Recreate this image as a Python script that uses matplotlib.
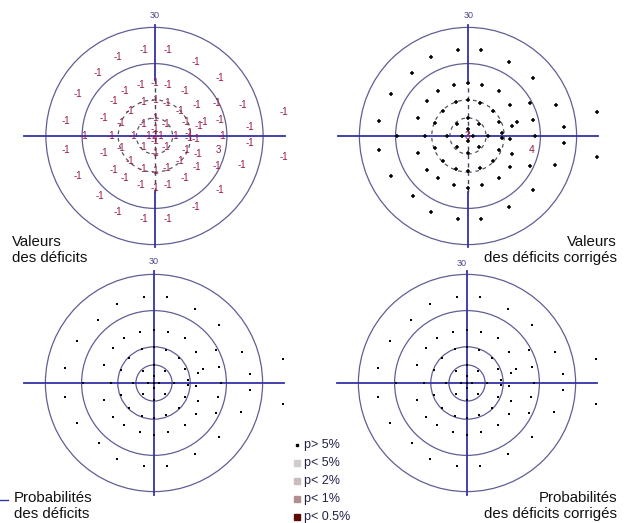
import matplotlib
matplotlib.use("Agg")
import matplotlib.pyplot as plt
from matplotlib.patches import Circle
from matplotlib.lines import Line2D

plt.rcParams["font.family"] = ["Liberation Sans", "DejaVu Sans"]

# positions des points testés (degrés)
pt_x = [-2.8, 3.7, -10.2, 11.4, -15.6, 18.0, -21.2, 24.4, 35.7, -24.6, 26.4,
        26.4, 35.7, -24.6, -21.2, 24.1, 18.0, -15.2, 11.4, -10.2, -2.8, 3.7,
        0.0, -3.9, 3.8, -8.3, 8.5, -11.2, 11.7, 17.2, -13.9, 13.6, 18.0,
        -19.5, -12.0, 18.5, -13.9, 17.6, 12.1, -11.2, 11.7, 17.2, -8.3, 8.5,
        -3.9, 3.8, 0.0,
        0.0, -3.2, 3.3, -6.9, 6.9, -9.2, 8.7, 12.2, 0.0, -3.1, 3.1, 0.0,
        -5.9, -1.7, 0.0, 1.5, 5.5, 9.5, 9.5, 11.5, 0.0, -9.2, -3.1, 3.1,
        8.7, 0.0, -6.9, 6.9, -3.2, 3.3, 0.0]
pt_y = [23.7, 23.7, 21.8, 20.4, 17.3, 16.0, 11.6, 8.6, 6.6, 4.2, 2.6,
        -1.9, -5.9, -3.8, -11.0, -8.0, -15.0, -16.7, -19.7, -20.9, -22.8, -22.8,
        14.6, 14.2, 14.2, 12.4, 12.4, 9.7, 8.6, 9.0, 5.0, 4.0, 4.3,
        0.0, 0.0, 0.0, -4.6, -3.9, -5.0, -9.3, -8.6, -8.3, -11.7, -11.6,
        -13.6, -13.6, -14.4,
        10.0, 9.4, 9.1, 7.0, 7.0, 3.5, 3.9, 2.8, 5.1, 3.4, 3.4, 2.0,
        0.0, 0.0, 0.0, 0.0, 0.0, 0.9, -0.6, -0.9, -1.3, -3.2, -3.1, -3.1,
        -3.9, -4.7, -6.8, -6.8, -9.1, -8.9, -9.6]

# valeurs des déficits (dB) et déficits corrigés
deficits = [-1] * 22 + [-1] * 15 + [3] + [-1] * 9 + [-1] * 14 + [2] + [-1] * 16
corriges = [0] * 22 + [0] * 15 + [4] + [0] * 9 + [0] * 14 + [3] + [0] * 16

# légende des probabilités
leg_labels = ["p> 5%", "p< 5%", "p< 2%", "p< 1%", "p< 0.5%"]
leg_colors = ["#000000", "#d3cccc", "#c9bcbc", "#b08f8f", "#5c0a0a"]

W, H = 628, 523
S = 3.62  # pixels par degré
BLUE = "#3333a6"
RING = "#5f5f94"
RED = "#96154a"

fig = plt.figure(figsize=(W / 100, H / 100), dpi=100)


def panel(cx, cy, dashed):
    hw, hh = 40, 36
    ax = fig.add_axes([(cx - hw * S) / W, (H - cy - hh * S) / H,
                       2 * hw * S / W, 2 * hh * S / H])
    ax.set_xlim(-hw, hw)
    ax.set_ylim(-hh, hh)
    ax.axis("off")
    for r in (30, 20, 10, 5):
        ls = (0, (3, 3)) if (dashed and r < 20) else "-"
        col = "#555566" if (dashed and r < 20) else RING
        ax.add_patch(Circle((0, 0), r, fill=False, ec=col, lw=0.9, ls=ls))
    ax.plot([-36, 36], [0, 0], color=BLUE, lw=1.3, zorder=2)
    if dashed:
        ax.plot([0, 0], [15.5, 30.8], color=BLUE, lw=1.3, zorder=2)
        ax.plot([0, 0], [-15.5, -30.8], color=BLUE, lw=1.3, zorder=2)
        ax.plot([0, 0], [-15.5, 15.5], color="#444466", lw=1.0,
                ls=(0, (3, 3)), zorder=2)
    else:
        ax.plot([0, 0], [-31, 31], color=BLUE, lw=1.3, zorder=2)
    return ax


# Valeurs des déficits
ax1 = panel(154.5, 136, True)
for x, y, v in zip(pt_x, pt_y, deficits):
    ax1.text(x, y, str(v), color=RED, fontsize=7, ha="center", va="center",
             zorder=3)

# Valeurs des déficits corrigés
ax2 = panel(468, 136, True)
for x, y, v in zip(pt_x, pt_y, corriges):
    if v == 0:
        ax2.plot(x, y, marker="+", ms=3.2, mew=1.1, color="black", zorder=3)
    else:
        ax2.text(x, y, str(v), color=RED, fontsize=7.5, ha="center",
                 va="center", zorder=3)

# Probabilités
ax3 = panel(154, 383, False)
ax3.scatter(pt_x, pt_y, marker="s", s=3.5, color="black", zorder=3, lw=0)
ax4 = panel(467, 383, False)
ax4.scatter(pt_x, pt_y, marker="s", s=3.5, color="black", zorder=3, lw=0)

for x, y in [(155, 16), (469, 16), (154, 262), (462, 264)]:
    fig.text(x / W, 1 - y / H, "30", color="#4a4a8a", fontsize=6.5,
             ha="center", va="center")

lab = dict(fontsize=10.8, color="#111111", linespacing=1.1, va="center")
fig.text(12 / W, 1 - 250 / H, "Valeurs\ndes déficits", ha="left", **lab)
fig.text(617 / W, 1 - 250 / H, "Valeurs\ndes déficits corrigés",
         ha="right", multialignment="right", **lab)
fig.text(14 / W, 1 - 506 / H, "Probabilités\ndes déficits", ha="left", **lab)
fig.text(617 / W, 1 - 506 / H, "Probabilités\ndes déficits corrigés",
         ha="right", multialignment="right", **lab)
fig.add_artist(Line2D([0, 8 / W], [1 - 500 / H, 1 - 500 / H],
                      color=BLUE, lw=1.0))

# légende
for i, (t, c) in enumerate(zip(leg_labels, leg_colors)):
    y = 1 - (445 + 18 * i) / H
    ms = 1.8 if i == 0 else 4.5
    fig.add_artist(Line2D([297 / W], [y], marker="s", ms=ms, color=c, lw=0))
    fig.text(304 / W, y, t, fontsize=9, color="#222244", va="center",
             ha="left")

fig.savefig("out.png", dpi=100)
